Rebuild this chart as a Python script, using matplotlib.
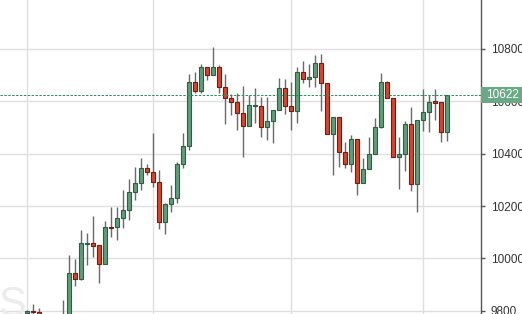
import numpy as np
import matplotlib
matplotlib.use("Agg")
import matplotlib.pyplot as plt
from matplotlib.patches import Rectangle
import matplotlib.transforms as mtransforms

# daily candles
opens = [9790, 9800, 9795, 9750, 9720, 9740, 9760, 9775, 9943, 9920,
         10056, 10060, 10051, 9978, 10121, 10119, 10153, 10185, 10255, 10287,
         10344, 10331, 10290, 10140, 10208, 10229, 10360, 10429, 10672, 10640,
         10729, 10701, 10729, 10655, 10611, 10596, 10556, 10506, 10581, 10581,
         10503, 10524, 10566, 10649, 10583, 10564, 10712, 10683, 10691, 10744,
         10668, 10474, 10538, 10407, 10359, 10454, 10287, 10340, 10397, 10503,
         10672, 10611, 10386, 10397, 10512, 10283, 10527, 10557, 10600, 10596,
         10481]
highs = [9805, 9828, 9810, 9770, 9760, 9780, 9842, 10013, 9998, 10109,
         10096, 10162, 10051, 10144, 10197, 10195, 10261, 10302, 10350, 10382,
         10360, 10477, 10337, 10210, 10280, 10369, 10477, 10704, 10712, 10742,
         10729, 10808, 10738, 10704, 10626, 10630, 10658, 10623, 10649, 10617,
         10617, 10566, 10687, 10684, 10674, 10731, 10754, 10742, 10776, 10780,
         10668, 10538, 10538, 10445, 10471, 10454, 10382, 10464, 10535, 10706,
         10678, 10611, 10462, 10524, 10579, 10527, 10645, 10623, 10645, 10596,
         10622]
lows = [9770, 9780, 9740, 9700, 9690, 9720, 9740, 9760, 9895, 9918,
        9975, 10007, 9908, 9978, 10083, 10070, 10115, 10147, 10223, 10261,
        10318, 10271, 10111, 10092, 10178, 10210, 10344, 10414, 10632, 10630,
        10681, 10701, 10632, 10513, 10547, 10490, 10387, 10506, 10516, 10464,
        10452, 10439, 10566, 10551, 10490, 10515, 10669, 10655, 10655, 10564,
        10474, 10318, 10350, 10346, 10331, 10242, 10287, 10340, 10397, 10496,
        10611, 10386, 10264, 10335, 10257, 10178, 10486, 10483, 10530, 10445,
        10449]
closes = [9800, 9795, 9750, 9720, 9740, 9760, 9775, 9943, 9920, 10060,
          10060, 10049, 9978, 10119, 10117, 10153, 10185, 10255, 10287, 10344,
          10331, 10290, 10140, 10208, 10229, 10360, 10429, 10672, 10640, 10729,
          10701, 10729, 10655, 10611, 10596, 10556, 10506, 10584, 10585, 10503,
          10524, 10566, 10649, 10583, 10564, 10712, 10683, 10691, 10744, 10668,
          10474, 10538, 10407, 10359, 10454, 10287, 10340, 10397, 10503, 10672,
          10611, 10386, 10397, 10512, 10283, 10527, 10557, 10598, 10594, 10481,
          10622]
last_price = 10622
yticks = [9800, 10000, 10200, 10400, 10600, 10800]
month_starts = [0, 21, 44, 66]

up_fill = '#5e9e78'
up_edge = '#2f5e40'
dn_fill = '#d8452d'
dn_edge = '#6e1e12'
wick = '#6a6a6a'

plt.rcParams['font.family'] = ['Liberation Sans', 'DejaVu Sans']

fig = plt.figure(figsize=(5.22, 3.14), dpi=100)
ax = fig.add_axes([0, 0, 481 / 522, 1])

x = np.arange(len(opens))
o = np.array(opens)
c = np.array(closes)
up = c >= o
body_lo = np.minimum(o, c)
body_h = np.maximum(np.abs(c - o), 3)

ax.vlines(x, lows, highs, color=wick, linewidth=1, zorder=2)
ax.bar(x[up], body_h[up], 0.72, bottom=body_lo[up], color=up_fill,
       edgecolor=up_edge, linewidth=0.8, zorder=3)
ax.bar(x[~up], body_h[~up], 0.72, bottom=body_lo[~up], color=dn_fill,
       edgecolor=dn_edge, linewidth=0.8, zorder=3)

# current price line
ax.axhline(last_price, color='#2f8a5a', linewidth=0.7, linestyle=(0, (2.5, 1.5)), zorder=4)

ax.set_xlim(-4.5, 75.67)
ax.set_ylim(9788, 10986)
ax.set_xticks(month_starts)
ax.set_yticks(yticks)
ax.grid(True, color='#e0e0e0', linewidth=1)
ax.set_axisbelow(True)
ax.tick_params(axis='x', length=0, labelbottom=False)
ax.yaxis.tick_right()
ax.tick_params(axis='y', direction='out', length=3, width=1, color='#555555',
               labelsize=8.5, labelcolor='#333333', pad=4)
for s in ['top', 'left', 'bottom']:
    ax.spines[s].set_visible(False)
ax.spines['right'].set_color('#555555')
ax.spines['right'].set_linewidth(1)

# price tag on the axis
trans = mtransforms.blended_transform_factory(ax.transAxes, ax.transData)
ax.add_patch(Rectangle((1.0, last_price - 30), 0.09, 62, transform=trans,
                       facecolor='#6aa886', edgecolor='none', clip_on=False, zorder=6))
ax.text(1.045, last_price + 1, str(last_price), transform=trans, ha='center', va='center',
        color='white', fontsize=8.5, clip_on=False, zorder=7)

# faint watermark letter
ax.text(-4.9, 9745, 'S', fontsize=30, color='#ececec', ha='left', va='bottom', zorder=1)

fig.savefig('out.png', dpi=100)
